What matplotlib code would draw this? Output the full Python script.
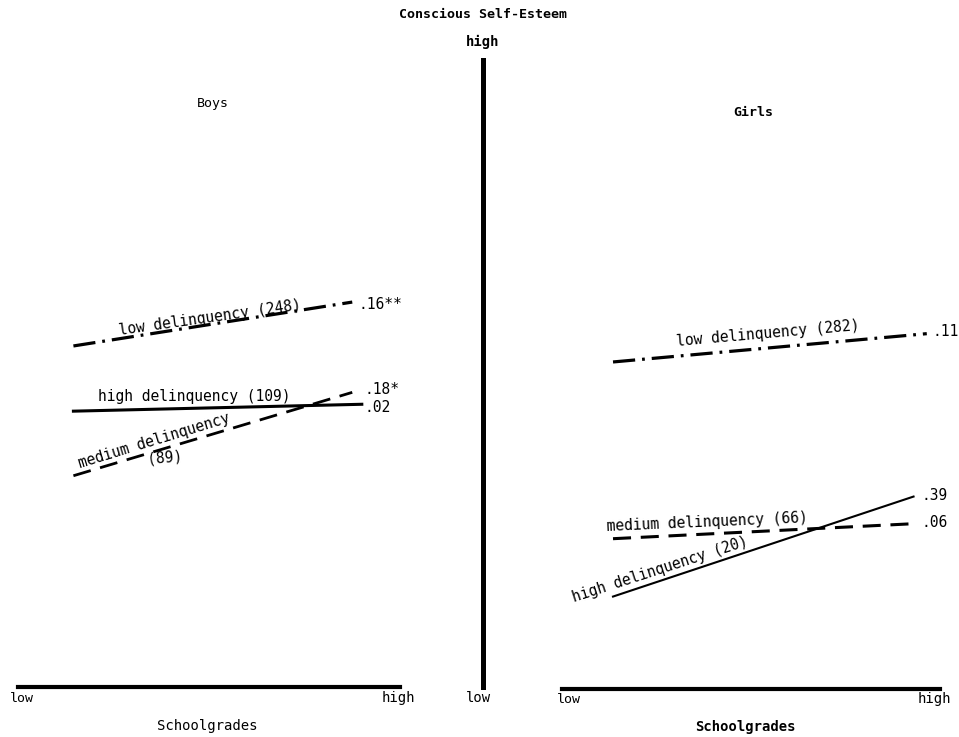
#### Workspace setup ####
import matplotlib
matplotlib.use("Agg")
import matplotlib.pyplot as plt

#### Data ####
# x: schoolgrades (0 = low, 1 = high); y: conscious self-esteem (0 = low, 100 = high)
boys_x = [0.145, 0.875]
boys_x_high = [0.145, 0.90]
boys_low = [54.4, 61.4]
boys_high = [44.0, 45.1]
boys_medium = [33.7, 47.0]
boys_coefs = [".16**", ".02", ".18*"]

girls_x = [0.135, 0.965]
girls_x_medium = [0.135, 0.935]
girls_x_high = [0.135, 0.93]
girls_low = [52.0, 56.5]
girls_medium = [23.9, 26.3]
girls_high = [14.7, 30.6]
girls_coefs = [".11", ".06", ".39"]

MONO = "DejaVu Sans Mono"
plt.rcParams["font.family"] = MONO
plt.rcParams["lines.scale_dashes"] = False

DASHDOT = (0, (16, 5, 2, 5))
DASHED = (0, (13, 7))


def setup_panel(ax):
    ax.set_xlim(0, 1)
    ax.set_ylim(0, 100)
    for side in ["top", "right", "left"]:
        ax.spines[side].set_visible(False)
    ax.spines["bottom"].set_linewidth(3.0)
    ax.set_xticks([])
    ax.set_yticks([])
    ax.patch.set_alpha(0)


def main():
    fig = plt.figure(figsize=(9.59, 7.37), dpi=100)

    # Panel axes, placed to line up with the scan
    ax_b = fig.add_axes([0.0188, 0.0678, 0.3983, 0.8507])
    ax_g = fig.add_axes([0.5860, 0.0651, 0.3942, 0.8534])
    ax_c = fig.add_axes([0.5036, 0.0678, 0.001, 0.8507])
    setup_panel(ax_b)
    setup_panel(ax_g)

    # Central self-esteem axis
    ax_c.set_ylim(0, 100)
    for side in ["top", "right", "bottom"]:
        ax_c.spines[side].set_visible(False)
    ax_c.spines["left"].set_linewidth(3.6)
    ax_c.set_xticks([])
    ax_c.set_yticks([])

    #### Boys ####
    ax_b.plot(boys_x, boys_low, color="black", lw=2.3, linestyle=DASHDOT)
    ax_b.plot(boys_x_high, boys_high, color="black", lw=2.2)
    ax_b.plot(boys_x, boys_medium, color="black", lw=2.0, linestyle=DASHED)

    ax_b.text(0.503, 58.9, "low delinquency (248)", fontsize=10.5,
              rotation=8, ha="center", va="center")
    ax_b.text(0.461, 46.3, "high delinquency (109)", fontsize=10.5,
              ha="center", va="center")
    ax_b.text(0.355, 39.3, "medium delinquency", fontsize=10.5,
              rotation=17, ha="center", va="center")
    ax_b.text(0.385, 36.6, "(89)", fontsize=10.5, rotation=5,
              ha="center", va="center")

    ax_b.text(0.892, 61.0, boys_coefs[0], fontsize=10.5, va="center")
    ax_b.text(0.908, 47.5, boys_coefs[2], fontsize=10.5, va="center")
    ax_b.text(0.908, 44.6, boys_coefs[1], fontsize=10.5, va="center")

    ax_b.text(0.51, 93.1, "Boys", fontsize=9.5, ha="center", va="center")
    ax_b.text(-0.02, -1.8, "low", fontsize=9.5, ha="left", va="center")
    ax_b.text(1.04, -1.8, "high", fontsize=10, ha="right", va="center")
    ax_b.text(0.495, -6.2, "Schoolgrades", fontsize=10, ha="center", va="center")

    #### Girls ####
    ax_g.plot(girls_x, girls_low, color="black", lw=2.3, linestyle=DASHDOT)
    ax_g.plot(girls_x_medium, girls_medium, color="black", lw=2.2, linestyle=DASHED)
    ax_g.plot(girls_x_high, girls_high, color="black", lw=1.5)

    ax_g.text(0.545, 56.5, "low delinquency (282)", fontsize=10.5,
              rotation=5, ha="center", va="center")
    ax_g.text(0.384, 26.6, "medium delinquency (66)", fontsize=10.5,
              rotation=2.5, ha="center", va="center")
    ax_g.text(0.259, 19.0, "high delinquency (20)", fontsize=10.5,
              rotation=18, ha="center", va="center")

    ax_g.text(0.98, 56.9, girls_coefs[0], fontsize=10.5, va="center")
    ax_g.text(0.95, 30.8, girls_coefs[2], fontsize=10.5, va="center")
    ax_g.text(0.95, 26.4, girls_coefs[1], fontsize=10.5, va="center")

    ax_g.text(0.505, 91.6, "Girls", fontsize=9.5, fontweight="bold",
              ha="center", va="center")
    ax_g.text(-0.013, -1.6, "low", fontsize=9.5, ha="left", va="center")
    ax_g.text(1.03, -1.6, "high", fontsize=10, ha="right", va="center")
    ax_g.text(0.485, -6.0, "Schoolgrades", fontsize=10, fontweight="bold",
              ha="center", va="center")

    #### Central axis labels ####
    fig.text(0.5036, 0.980, "Conscious Self-Esteem", fontsize=9.5,
             fontweight="bold", ha="center", va="center")
    fig.text(0.5036, 0.943, "high", fontsize=10, fontweight="bold",
             ha="center", va="center")
    fig.text(0.4985, 0.053, "low", fontsize=10, ha="center", va="center")

    fig.savefig("out.png", dpi=100, facecolor="white")
    plt.close(fig)


if __name__ == "__main__":
    main()
